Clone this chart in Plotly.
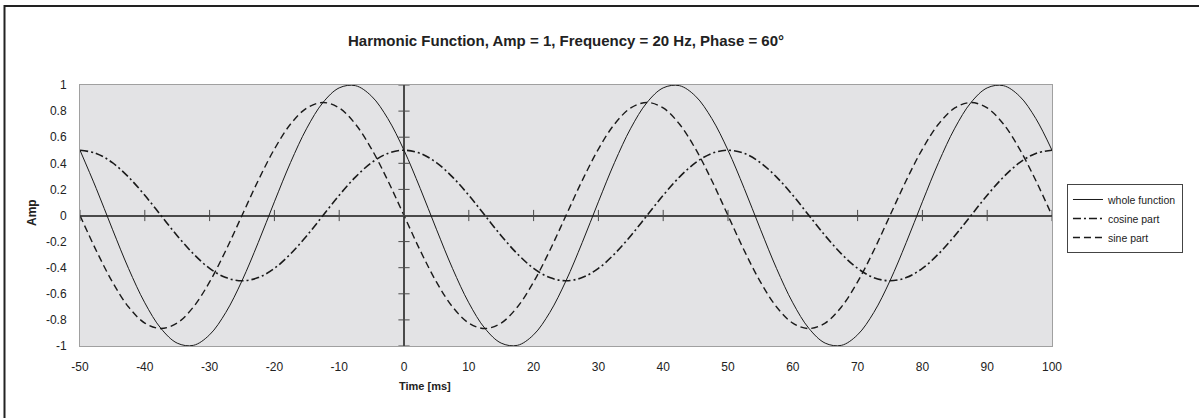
import plotly.graph_objects as go

time_ms = [-50, -47.5, -45, -42.5, -40, -37.5, -35, -32.5, -30, -27.5, -25, -22.5, -20, -17.5, -15, -12.5,
           -10, -7.5, -5, -2.5, 0, 2.5, 5, 7.5, 10, 12.5, 15, 17.5, 20, 22.5, 25, 27.5, 30, 32.5, 35, 37.5,
           40, 42.5, 45, 47.5, 50, 52.5, 55, 57.5, 60, 62.5, 65, 67.5, 70, 72.5, 75, 77.5, 80, 82.5, 85,
           87.5, 90, 92.5, 95, 97.5, 100]

whole_function = [0.5, 0.208, -0.105, -0.407, -0.669, -0.866, -0.978, -0.995, -0.914, -0.743,
                  -0.5, -0.208, 0.105, 0.407, 0.669, 0.866, 0.978, 0.995, 0.914, 0.743,
                  0.5, 0.208, -0.105, -0.407, -0.669, -0.866, -0.978, -0.995, -0.914, -0.743,
                  -0.5, -0.208, 0.105, 0.407, 0.669, 0.866, 0.978, 0.995, 0.914, 0.743,
                  0.5, 0.208, -0.105, -0.407, -0.669, -0.866, -0.978, -0.995, -0.914, -0.743,
                  -0.5, -0.208, 0.105, 0.407, 0.669, 0.866, 0.978, 0.995, 0.914, 0.743,
                  0.5]

cosine_part = [0.5, 0.476, 0.405, 0.294, 0.155, 0.0, -0.155, -0.294, -0.405, -0.476,
               -0.5, -0.476, -0.405, -0.294, -0.155, 0.0, 0.155, 0.294, 0.405, 0.476,
               0.5, 0.476, 0.405, 0.294, 0.155, 0.0, -0.155, -0.294, -0.405, -0.476,
               -0.5, -0.476, -0.405, -0.294, -0.155, 0.0, 0.155, 0.294, 0.405, 0.476,
               0.5, 0.476, 0.405, 0.294, 0.155, 0.0, -0.155, -0.294, -0.405, -0.476,
               -0.5, -0.476, -0.405, -0.294, -0.155, 0.0, 0.155, 0.294, 0.405, 0.476,
               0.5]

sine_part = [0.0, -0.268, -0.509, -0.701, -0.824, -0.866, -0.824, -0.701, -0.509, -0.268,
             0.0, 0.268, 0.509, 0.701, 0.824, 0.866, 0.824, 0.701, 0.509, 0.268,
             0.0, -0.268, -0.509, -0.701, -0.824, -0.866, -0.824, -0.701, -0.509, -0.268,
             0.0, 0.268, 0.509, 0.701, 0.824, 0.866, 0.824, 0.701, 0.509, 0.268,
             0.0, -0.268, -0.509, -0.701, -0.824, -0.866, -0.824, -0.701, -0.509, -0.268,
             0.0, 0.268, 0.509, 0.701, 0.824, 0.866, 0.824, 0.701, 0.509, 0.268,
             0.0]

x_ticks = [-50, -40, -30, -20, -10, 0, 10, 20, 30, 40, 50, 60, 70, 80, 90, 100]
x_tick_labels = ["-50", "-40", "-30", "-20", "-10", "0", "10", "20", "30", "40", "50", "60", "70", "80",
                 "90", "100"]
y_ticks = [-1, -0.8, -0.6, -0.4, -0.2, 0, 0.2, 0.4, 0.6, 0.8, 1]
y_tick_labels = ["-1", "-0.8", "-0.6", "-0.4", "-0.2", "0", "0.2", "0.4", "0.6", "0.8", "1"]

FONT = "Liberation Sans, Arial, sans-serif"
AX = "#4a4a4a"
TXT = "#222222"

fig = go.Figure()

fig.add_trace(go.Scatter(x=time_ms, y=whole_function, name="whole function", mode="lines",
                         line=dict(color="#1a1a1a", width=1, shape="spline")))
fig.add_trace(go.Scatter(x=time_ms, y=cosine_part, name="cosine part", mode="lines",
                         line=dict(color="#1a1a1a", width=1.6, shape="spline", dash="8px,3px,2px,3px")))
fig.add_trace(go.Scatter(x=time_ms, y=sine_part, name="sine part", mode="lines",
                         line=dict(color="#1a1a1a", width=1.4, shape="spline", dash="7px,4px")))

# tick marks crossing the zero axes
fig.add_trace(go.Scatter(x=x_ticks, y=[0] * len(x_ticks), mode="markers", showlegend=False, hoverinfo="skip",
                         marker=dict(symbol="line-ns-open", size=8, color=AX, line=dict(color=AX, width=1))))
fig.add_trace(go.Scatter(x=[0] * len(y_ticks), y=y_ticks, mode="markers", showlegend=False, hoverinfo="skip",
                         marker=dict(symbol="line-ew-open", size=8, color=AX, line=dict(color=AX, width=1))))

fig.update_layout(
    width=1199, height=418,
    margin=dict(l=80, r=147, t=85, b=72),
    paper_bgcolor="white",
    plot_bgcolor="#e3e3e5",
    font=dict(family=FONT, size=12, color=TXT),
    showlegend=True,
    legend=dict(x=1.0154, y=0.6207, xanchor="left", yanchor="top",
                bordercolor="#444444", borderwidth=1, bgcolor="white",
                font=dict(family=FONT, size=10.5, color=TXT),
                tracegroupgap=0, itemwidth=30),
    xaxis=dict(range=[-50, 100], tickvals=x_ticks, ticktext=x_tick_labels, ticks="outside", ticklen=10,
               tickcolor="rgba(0,0,0,0)", showgrid=False,
               showline=True, mirror=True, linecolor="#a0a0a0", linewidth=1,
               zeroline=True, zerolinecolor=AX, zerolinewidth=1.6,
               tickfont=dict(size=12, color=TXT)),
    yaxis=dict(range=[-1, 1], tickvals=y_ticks, ticktext=y_tick_labels, ticks="outside", ticklen=10,
               tickcolor="rgba(0,0,0,0)", showgrid=False,
               showline=True, mirror=True, linecolor="#a0a0a0", linewidth=1,
               zeroline=True, zerolinecolor=AX, zerolinewidth=1.6,
               tickfont=dict(size=12, color=TXT)),
    annotations=[
        dict(text="<b>Harmonic Function, Amp = 1, Frequency = 20 Hz, Phase = 60°</b>",
             xref="paper", yref="paper", x=0.5, y=(346 - 40) / 261, showarrow=False,
             xanchor="center", yanchor="middle", font=dict(family=FONT, size=15, color=TXT)),
        dict(text="<b>Time [ms]</b>", xref="paper", yref="paper", x=(425 - 80) / 972, y=(346 - 386) / 261,
             showarrow=False, xanchor="center", yanchor="middle", font=dict(family=FONT, size=11, color=TXT)),
        dict(text="<b>Amp</b>", xref="paper", yref="paper", x=(32 - 80) / 972, y=(346 - 213) / 261,
             showarrow=False, textangle=-90, xanchor="center", yanchor="middle",
             font=dict(family=FONT, size=12, color=TXT)),
    ],
    shapes=[
        dict(type="rect", xref="paper", yref="paper", x0=(4.5 - 80) / 972, x1=1.25,
             y0=-0.5, y1=(346 - 6) / 261, line=dict(color="#222222", width=2), layer="below"),
    ],
)

fig.write_html("out.html", config={"displayModeBar": False},
               post_script="document.body.style.margin='0px';")
